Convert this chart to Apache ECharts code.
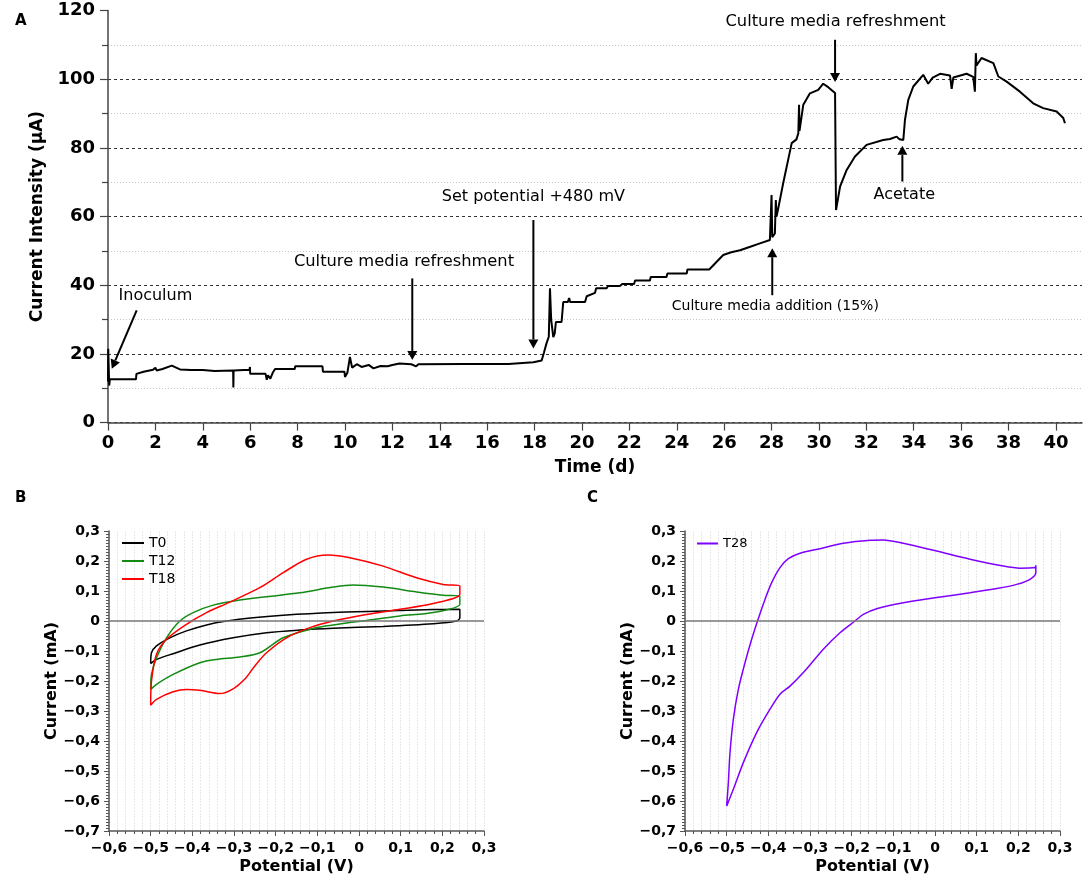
<!DOCTYPE html>
<html>
<head>
<meta charset="utf-8">
<script src="https://cdn.jsdelivr.net/npm/echarts@6/dist/echarts.min.js"></script>
<style>
html, body { margin: 0; padding: 0; background: #fff; }
#main { width: 1084px; height: 880px; }
</style>
</head>
<body>
<div id="main"></div>
<script>
// Panel A: current vs time as [day, µA]
const currentTrace = [
    [0, 12.0], [0.01, 21.5], [0.03, 16.2], [0.05, 10.8], [0.08, 12.6], [1.18, 12.6], [1.2, 14.2],
    [1.5, 14.8], [1.9, 15.4], [2.0, 16.0], [2.05, 15.2], [2.3, 15.6], [2.69, 16.6], [3.04, 15.5],
    [3.5, 15.3], [4.0, 15.3], [4.5, 15.0], [5.28, 15.2], [5.29, 10.2], [5.3, 15.2], [5.97, 15.4],
    [5.99, 16.2], [6.0, 14.2], [6.65, 14.2], [6.7, 12.5], [6.75, 13.8], [6.85, 12.8], [6.95, 14.5],
    [7.05, 15.6], [7.88, 15.6], [7.9, 16.4], [9.05, 16.4], [9.07, 14.8], [9.98, 14.8], [10.0, 13.3],
    [10.1, 14.5], [10.21, 19.1], [10.3, 16.0], [10.5, 17.0], [10.7, 16.2], [11.0, 16.8], [11.2, 15.8],
    [11.5, 16.5], [11.8, 16.4], [12.0, 16.8], [12.3, 17.2], [12.8, 17.0], [13.0, 16.4], [13.1, 17.0],
    [15.0, 17.1], [16.9, 17.1], [17.95, 17.6], [18.3, 18.1], [18.4, 20.5], [18.5, 23.0], [18.6, 25.0],
    [18.65, 39.1], [18.7, 30.0], [18.79, 24.9], [18.85, 26.0], [18.9, 29.3], [19.14, 29.3], [19.21, 35.1],
    [19.4, 35.1], [19.46, 36.3], [19.5, 35.1], [20.13, 35.1], [20.2, 36.8], [20.55, 37.8], [20.6, 39.1],
    [21.04, 39.1], [21.1, 39.8], [21.6, 39.8], [21.7, 40.4], [22.2, 40.4], [22.24, 41.4], [22.87, 41.4],
    [22.9, 42.4], [23.57, 42.4], [23.6, 43.4], [24.42, 43.4], [24.45, 44.6], [25.37, 44.6], [25.96, 48.8],
    [26.3, 49.6], [26.67, 50.2], [27.1, 51.2], [27.51, 52.2], [27.93, 53.2], [27.98, 53.0], [28.0, 66.3],
    [28.03, 54.0], [28.08, 53.5], [28.14, 55.1], [28.18, 64.8], [28.21, 60.0], [28.3, 63.0], [28.49, 69.7],
    [28.85, 81.4], [29.05, 82.5], [29.13, 84.3], [29.16, 92.6], [29.18, 85.0], [29.34, 92.6], [29.62, 95.9],
    [29.97, 96.9], [30.18, 98.7], [30.39, 97.7], [30.68, 96.0], [30.72, 61.9], [30.89, 68.7], [31.17, 73.6],
    [31.52, 77.5], [32.01, 80.9], [32.71, 82.3], [33.0, 82.6], [33.28, 83.3], [33.4, 82.5], [33.56, 82.3],
    [33.63, 88.2], [33.7, 88.2], [33.77, 94.0], [33.98, 97.9], [34.4, 101.3], [34.61, 98.7], [34.8, 100.5],
    [35.11, 101.6], [35.53, 101.1], [35.6, 97.2], [35.67, 100.5], [36.23, 101.6], [36.51, 100.7], [36.58, 96.4],
    [36.62, 107.6], [36.65, 104.0], [36.86, 106.2], [37.36, 104.7], [37.57, 100.8], [37.92, 99.3], [38.48, 96.4],
    [39.04, 93.0], [39.46, 91.6], [40.03, 90.6], [40.31, 88.7], [40.38, 87.2]
];
const timeTicks = [0, 2, 4, 6, 8, 10, 12, 14, 16, 18, 20, 22, 24, 26, 28, 30, 32, 34, 36, 38, 40];

// annotation texts [text, day, µA, font size] and arrows [tail, tip]
const noteTexts = [
    ['Inoculum', 2.0, 37.0, 16],
    ['Culture media refreshment', 12.49, 46.8, 16.3],
    ['Set potential +480 mV', 17.95, 65.7, 16],
    ['Culture media addition (15%)', 28.16, 33.8, 14],
    ['Culture media refreshment', 30.7, 116.7, 16.3],
    ['Acetate', 33.6, 66.3, 16]
];
const noteArrows = [
    [[1.21, 32.7], [0.16, 15.7]],
    [[12.84, 42.0], [12.84, 18.2]],
    [[17.95, 59.0], [17.95, 21.6]],
    [[28.03, 37.1], [28.03, 50.8]],
    [[30.68, 111.5], [30.68, 99.2]],
    [[33.52, 70.2], [33.52, 80.6]]
];

// Panels B and C: cyclic voltammograms [V, mA]
const cvT0 = [
    [-0.5, -0.142], [-0.498, -0.106], [-0.486, -0.083], [-0.454, -0.056], [-0.414, -0.033], [-0.366, -0.013],
    [-0.318, 0], [-0.254, 0.011], [-0.182, 0.019], [-0.062, 0.028], [0.058, 0.033], [0.178, 0.038],
    [0.242, 0.039], [0.242, 0.011], [0.234, 0], [0.178, -0.009], [0.058, -0.018], [-0.062, -0.024],
    [-0.142, -0.03], [-0.222, -0.039], [-0.302, -0.056], [-0.382, -0.08], [-0.446, -0.109], [-0.486, -0.128],
    [-0.5, -0.142]
];
const cvT12 = [
    [-0.5, -0.228], [-0.498, -0.178], [-0.486, -0.122], [-0.462, -0.056], [-0.43, 0], [-0.398, 0.028],
    [-0.35, 0.053], [-0.286, 0.07], [-0.222, 0.081], [-0.142, 0.094], [-0.062, 0.113], [-0.014, 0.12],
    [0.058, 0.113], [0.138, 0.097], [0.202, 0.086], [0.242, 0.083], [0.242, 0.056], [0.178, 0.028],
    [0.098, 0.017], [0.018, 0.002], [-0.062, -0.013], [-0.102, -0.022], [-0.182, -0.056], [-0.238, -0.106],
    [-0.286, -0.12], [-0.342, -0.128], [-0.382, -0.139], [-0.446, -0.178], [-0.486, -0.211], [-0.5, -0.228]
];
const cvT18 = [
    [-0.5, -0.281], [-0.498, -0.2], [-0.486, -0.111], [-0.462, -0.061], [-0.414, -0.011], [-0.366, 0.028],
    [-0.318, 0.058], [-0.238, 0.111], [-0.182, 0.161], [-0.126, 0.206], [-0.074, 0.22], [-0.022, 0.211],
    [0.058, 0.183], [0.138, 0.144], [0.202, 0.122], [0.242, 0.117], [0.242, 0.089], [0.178, 0.058],
    [0.098, 0.039], [0.018, 0.022], [-0.062, 0], [-0.118, -0.022], [-0.174, -0.056], [-0.222, -0.106],
    [-0.25, -0.15], [-0.275, -0.195], [-0.302, -0.226], [-0.334, -0.242], [-0.382, -0.231], [-0.414, -0.228],
    [-0.446, -0.236], [-0.486, -0.261], [-0.5, -0.281]
];
const cvT28 = [
    [-0.5, -0.617], [-0.496, -0.539], [-0.492, -0.439], [-0.484, -0.328], [-0.472, -0.228], [-0.456, -0.139],
    [-0.44, -0.061], [-0.426, 0], [-0.408, 0.072], [-0.392, 0.128], [-0.372, 0.178], [-0.352, 0.208],
    [-0.324, 0.226], [-0.276, 0.241], [-0.22, 0.259], [-0.156, 0.269], [-0.124, 0.27], [-0.076, 0.259],
    [0.004, 0.233], [0.084, 0.206], [0.164, 0.183], [0.204, 0.176], [0.24, 0.178], [0.242, 0.186],
    [0.242, 0.161], [0.228, 0.139], [0.196, 0.122], [0.148, 0.108], [0.084, 0.094], [0.004, 0.078],
    [-0.076, 0.061], [-0.14, 0.041], [-0.172, 0.022], [-0.192, 0], [-0.228, -0.039], [-0.268, -0.094],
    [-0.316, -0.172], [-0.348, -0.217], [-0.372, -0.244], [-0.396, -0.294], [-0.428, -0.372], [-0.46, -0.472],
    [-0.484, -0.561], [-0.5, -0.617]
];

const FONT = 'DejaVu Sans';

function commaLabel(v) {
    if (Math.abs(v) < 1e-9) return '0';
    var s = Math.abs(v).toFixed(1).replace('.', ',');
    return v < 0 ? '\u2212' + s : s;
}

function cvXAxis(gridIndex) {
    return {
        type: 'value', gridIndex: gridIndex, min: -0.6, max: 0.3, interval: 0.1,
        name: 'Potential (V)', nameLocation: 'middle', nameGap: 28,
        nameTextStyle: { fontFamily: FONT, fontWeight: 'bold', fontSize: 16, color: '#000' },
        axisLine: { onZero: false, lineStyle: { color: '#555', width: 1.5 } },
        axisTick: { length: 5, lineStyle: { color: '#555' } },
        minorTick: { show: true, splitNumber: 5, length: 3, lineStyle: { color: '#555' } },
        axisLabel: { formatter: commaLabel, margin: 10, fontFamily: FONT, fontWeight: 'bold', fontSize: 14, color: '#000' },
        splitLine: { show: true, lineStyle: { color: '#e8e8e8', type: [2, 1] } },
        minorSplitLine: { show: true, lineStyle: { color: '#e8e8e8', type: [2, 1] } }
    };
}

function cvYAxis(gridIndex) {
    return {
        type: 'value', gridIndex: gridIndex, min: -0.7, max: 0.3, interval: 0.1,
        name: 'Current (mA)', nameLocation: 'middle', nameGap: 49,
        nameTextStyle: { fontFamily: FONT, fontWeight: 'bold', fontSize: 16, color: '#000' },
        axisLine: { onZero: false, lineStyle: { color: '#555', width: 1.5 } },
        axisTick: { length: 5, lineStyle: { color: '#555' } },
        minorTick: { show: true, splitNumber: 10, length: 3, lineStyle: { color: '#555' } },
        axisLabel: { formatter: commaLabel, margin: 9, fontFamily: FONT, fontWeight: 'bold', fontSize: 14, color: '#000' },
        splitLine: { show: false }
    };
}

function cvSeries(name, data, color, gridIndex, withZero) {
    var s = {
        name: name, type: 'line', data: data, xAxisIndex: gridIndex, yAxisIndex: gridIndex,
        showSymbol: false, smooth: 0.3, lineStyle: { color: color, width: 1.5 }, itemStyle: { color: color },
        silent: true, z: 3
    };
    if (withZero) {
        s.markLine = {
            silent: true, symbol: 'none', label: { show: false },
            lineStyle: { color: '#777', width: 1.5, type: 'solid' },
            data: [{ yAxis: 0 }]
        };
    }
    return s;
}

var chart = echarts.init(document.getElementById('main'));

var option = {
    animation: false,
    textStyle: { fontFamily: FONT },
    title: [
        { text: 'A', left: 10, top: 9, textStyle: { fontFamily: FONT, fontWeight: 'bold', fontSize: 15, color: '#000' } },
        { text: 'B', left: 10, top: 486, textStyle: { fontFamily: FONT, fontWeight: 'bold', fontSize: 15, color: '#000' } },
        { text: 'C', left: 582, top: 486, textStyle: { fontFamily: FONT, fontWeight: 'bold', fontSize: 15, color: '#000' } }
    ],
    grid: [
        { left: 108, right: 2, top: 10.6, bottom: 457.4 },
        { left: 109, right: 600, top: 531, bottom: 49 },
        { left: 685, right: 24, top: 531, bottom: 49 }
    ],
    legend: [
        {
            data: ['T0', 'T12', 'T18'], orient: 'vertical', left: 122, top: 536, padding: 0,
            icon: 'rect', itemWidth: 22, itemHeight: 2, itemGap: 4,
            textStyle: { fontFamily: FONT, fontSize: 14, color: '#000' }
        },
        {
            data: ['T28'], orient: 'vertical', left: 697, top: 537, padding: 0,
            icon: 'rect', itemWidth: 21, itemHeight: 2, itemGap: 4,
            textStyle: { fontFamily: FONT, fontSize: 13, color: '#000' }
        }
    ],
    xAxis: [
        {
            type: 'value', gridIndex: 0, min: 0, max: 41.1,
            name: 'Time (d)', nameLocation: 'middle', nameGap: 36,
            nameTextStyle: { fontFamily: FONT, fontWeight: 'bold', fontSize: 17, color: '#000' },
            axisLine: { lineStyle: { color: '#444', width: 1.5 } },
            axisTick: { length: 8, customValues: timeTicks, lineStyle: { color: '#444', width: 1.2 } },
            axisLabel: { customValues: timeTicks, margin: 12, fontFamily: FONT, fontWeight: 'bold', fontSize: 18, color: '#000' },
            splitLine: { show: false }
        },
        cvXAxis(1),
        cvXAxis(2)
    ],
    yAxis: [
        {
            type: 'value', gridIndex: 0, min: 0, max: 120, interval: 20,
            name: 'Current Intensity (\u00b5A)', nameLocation: 'middle', nameGap: 54,
            nameTextStyle: { fontFamily: FONT, fontWeight: 'bold', fontSize: 17, color: '#000' },
            axisLine: { lineStyle: { color: '#444', width: 1.5 } },
            axisTick: { length: 8, lineStyle: { color: '#444', width: 1.2 } },
            minorTick: { show: true, splitNumber: 2, length: 6, lineStyle: { color: '#444', width: 1.2 } },
            axisLabel: { margin: 13, fontFamily: FONT, fontWeight: 'bold', fontSize: 18, color: '#000' },
            splitLine: { show: true, showMaxLine: false, lineStyle: { color: '#333', type: [3, 3], width: 1 } },
            minorSplitLine: { show: true, lineStyle: { color: '#c4c4c4', type: [1, 2], width: 1 } }
        },
        cvYAxis(1),
        cvYAxis(2)
    ],
    series: [
        {
            name: 'current', type: 'line', data: currentTrace, xAxisIndex: 0, yAxisIndex: 0,
            showSymbol: false, lineStyle: { color: '#000', width: 2 }, silent: true, z: 3
        },
        cvSeries('T0', cvT0, '#000000', 1, true),
        cvSeries('T12', cvT12, '#138a13', 1, false),
        cvSeries('T18', cvT18, '#ff0000', 1, false),
        cvSeries('T28', cvT28, '#7f00ff', 2, true)
    ]
};

chart.setOption(option);

// annotations for panel A, placed through the grid's own scales
function toPx(p) {
    return chart.convertToPixel({ gridIndex: 0 }, p);
}

var notes = [];
noteArrows.forEach(function (a) {
    var t = toPx(a[0]);
    var h = toPx(a[1]);
    var dx = h[0] - t[0], dy = h[1] - t[1];
    var len = Math.sqrt(dx * dx + dy * dy);
    var ux = dx / len, uy = dy / len;
    var headLen = 9, headHalf = 5;
    var bx = h[0] - ux * headLen, by = h[1] - uy * headLen;
    notes.push({
        type: 'line', silent: true, z: 10,
        shape: { x1: t[0], y1: t[1], x2: bx, y2: by },
        style: { stroke: '#000', lineWidth: 2 }
    });
    notes.push({
        type: 'polygon', silent: true, z: 10,
        shape: { points: [[h[0], h[1]], [bx - uy * headHalf, by + ux * headHalf], [bx + uy * headHalf, by - ux * headHalf]] },
        style: { fill: '#000' }
    });
});
noteTexts.forEach(function (n) {
    var p = toPx([n[1], n[2]]);
    notes.push({
        type: 'text', silent: true, z: 10, x: p[0], y: p[1],
        style: { text: n[0], fontFamily: FONT, fontSize: n[3], fill: '#000', align: 'center', verticalAlign: 'middle' }
    });
});
chart.setOption({ graphic: notes });
</script>
</body>
</html>
